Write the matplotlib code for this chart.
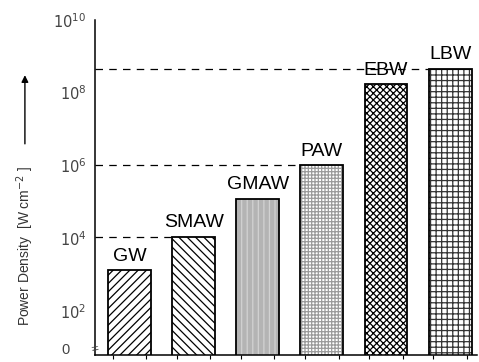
#!/usr/bin/env python3
import matplotlib
matplotlib.use("agg")
import matplotlib.pyplot as plt
import matplotlib.transforms as mtransforms
import numpy as np

processes = ["GW", "SMAW", "GMAW", "PAW", "EBW", "LBW"]
power_density = [1.3e3, 1.07e4, 1.2e5, 1.0e6, 1.7e8, 4.5e8]
hatches = ["////", "\\\\\\\\", "|||", "+++++", "xxxxx", "+++"]
faces = ["white", "white", "#b4b4b4", "white", "white", "white"]
hatch_colors = ["black", "black", "#d2d2d2", "#9a9a9a", "black", "#333333"]
dashed_at = ["SMAW", "PAW", "LBW"]
ytick_exp = [2, 4, 6, 8, 10]

plt.rcParams["font.family"] = ["Liberation Sans", "DejaVu Sans"]
plt.rcParams["hatch.linewidth"] = 0.9

fig = plt.figure(figsize=(4.79, 3.62), dpi=100)
ax = fig.add_axes([0.198, 0.019, 0.798, 0.926])

x = np.arange(len(processes))
width = 0.67

# fill + hatch first, then the black outline on top
ax.bar(x, power_density, width, color=faces, edgecolor=hatch_colors,
       hatch=hatches, linewidth=0, zorder=2)
ax.bar(x, power_density, width, color="none", edgecolor="black",
       linewidth=1.3, zorder=3)

for xi, name, val in zip(x, processes, power_density):
    ax.annotate(name, (xi, val), xytext=(0, 4), textcoords="offset points",
                ha="center", va="bottom", fontsize=14, zorder=4)
    if name in dashed_at:
        ax.plot([-0.54, xi - width / 2], [val, val], ls=(0, (6, 5)),
                color="black", lw=0.9, zorder=1)

ax.set_yscale("log")
ax.set_ylim(6, 1e10)
ax.set_xlim(-0.54, 5.42)
ax.set_yticks([10.0 ** e for e in ytick_exp])
ax.set_yticklabels([r"$10^{%d}$" % e for e in ytick_exp], fontsize=10.5,
                   color="#444444")
ax.yaxis.set_minor_locator(matplotlib.ticker.NullLocator())
ax.tick_params(axis="y", length=0, pad=6)

ax.set_xticks(np.concatenate([x - 0.26, x + 0.26]))
ax.set_xticklabels([])
ax.tick_params(axis="x", length=3, width=0.8, direction="out")

for s in ["top", "right"]:
    ax.spines[s].set_visible(False)
ax.spines["left"].set_linewidth(1.1)
ax.spines["bottom"].set_linewidth(1.1)

# "0" at the bottom and the axis break mark
trans = mtransforms.blended_transform_factory(ax.transAxes, ax.transData)
ax.text(-0.065, 8.5, "0", transform=trans, ha="right", va="center",
        fontsize=10.5, color="#444444")
ax.text(0, 8.5, "=", transform=trans, ha="center", va="center",
        fontsize=9, rotation=10, color="#444444", clip_on=False)

# axis title with arrow
fig.text(0.052, 0.32, r"Power Density  [W cm$^{-2}$ ]", rotation=90,
         ha="center", va="center", fontsize=10,
         family=["Liberation Sans Narrow", "Liberation Sans", "DejaVu Sans"],
         color="#333333")
ax.annotate("", xy=(0.052, 0.80), xytext=(0.052, 0.595),
            xycoords="figure fraction", textcoords="figure fraction",
            annotation_clip=False,
            arrowprops=dict(arrowstyle="-|>", color="black", lw=1.0,
                            mutation_scale=10))

fig.savefig("out.png", dpi=100)
